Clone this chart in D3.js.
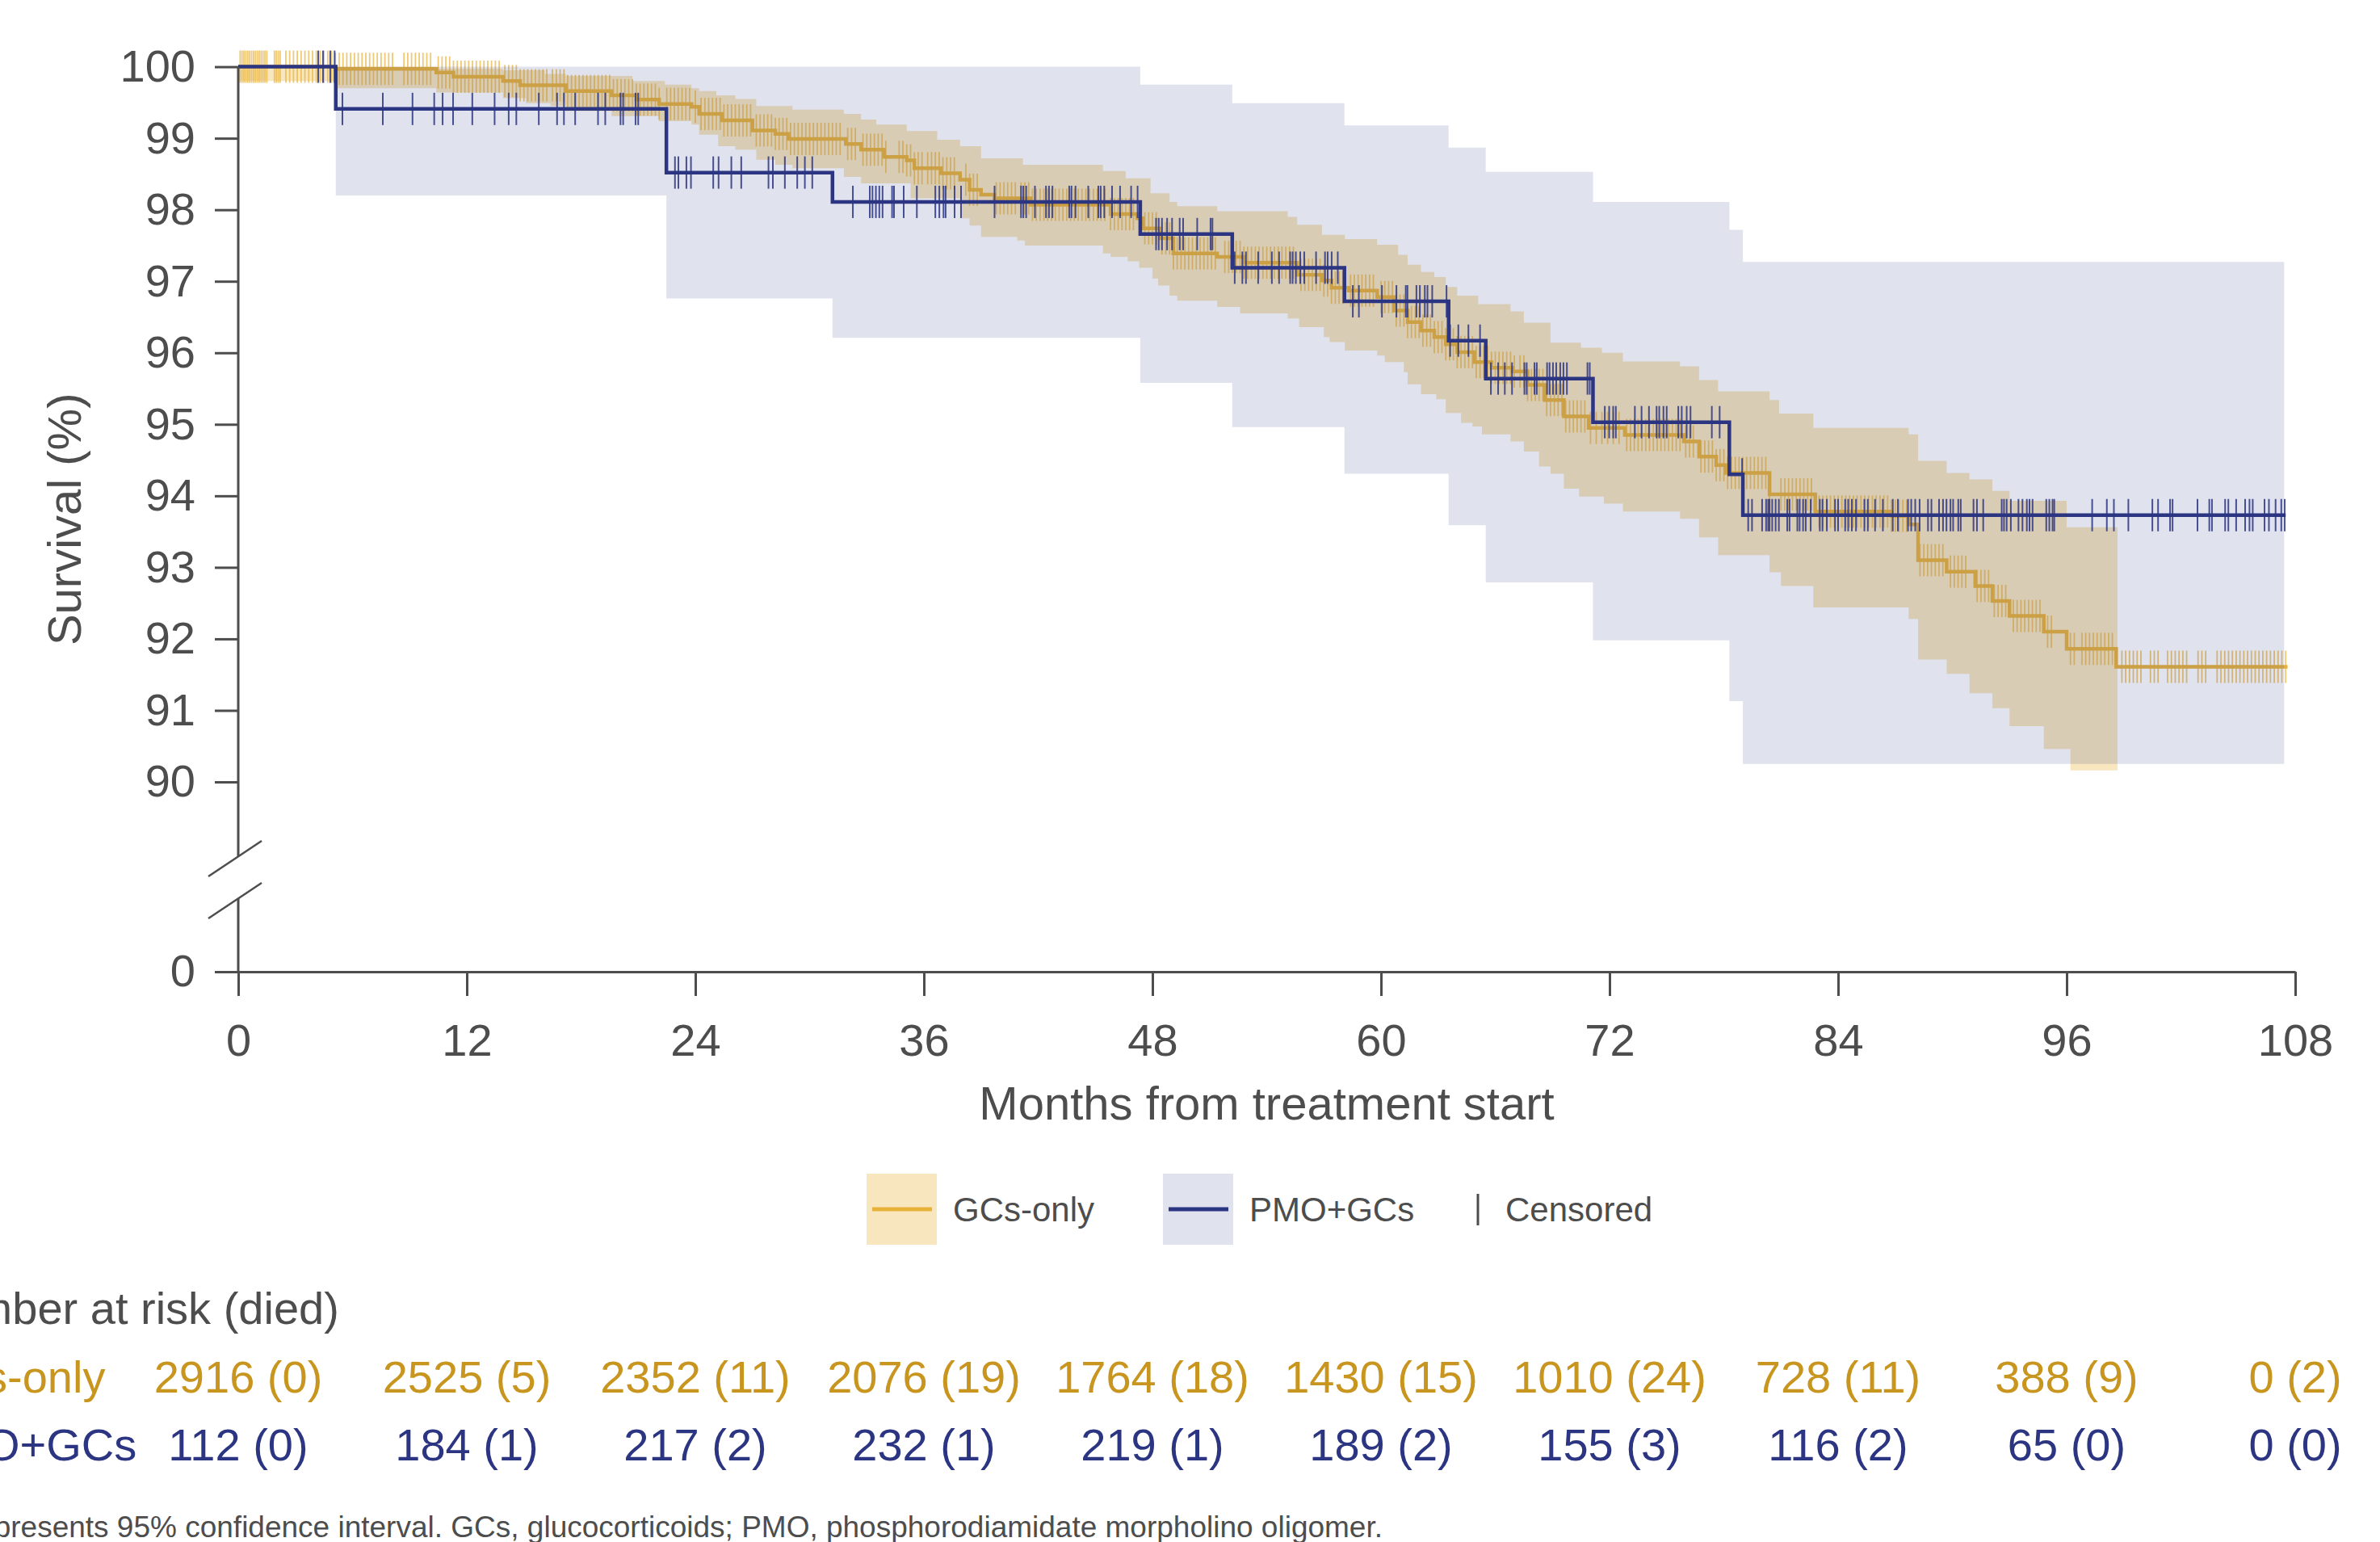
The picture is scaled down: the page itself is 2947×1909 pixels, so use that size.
<!DOCTYPE html>
<meta charset="utf-8">
<html>
<head>
<title>Survival</title>
<style>
  body { margin: 0; background: #fff; }
  text { font-family: "Liberation Sans", Arial, sans-serif; fill: #4d4d4d; }
</style>
<script src="https://cdn.jsdelivr.net/npm/d3@7"></script>
</head>
<body>
<script>
// ticks and table
var monthTicks = [0, 12, 24, 36, 48, 60, 72, 84, 96, 108]
var survTicks = [90, 91, 92, 93, 94, 95, 96, 97, 98, 99, 100]
var gcsRisk = [2916, 2525, 2352, 2076, 1764, 1430, 1010, 728, 388, 0]
var gcsDied = [0, 5, 11, 19, 18, 15, 24, 11, 9, 2]
var pmoRisk = [112, 184, 217, 232, 219, 189, 155, 116, 65, 0]
var pmoDied = [0, 1, 2, 1, 1, 2, 3, 2, 0, 0]

// GCs-only: [month, survival %] steps
var gcsSurv = [[0,100],[5.1,99.97],[10.4,99.92],[11.3,99.86],[13.9,99.8],[14.8,99.74],[17.2,99.66],[19.6,99.6],[20.9,99.54],[22.1,99.48],[23.8,99.44],[24.2,99.34],[25.4,99.25],[27,99.11],[28.2,99.06],[28.9,98.99],[31.9,98.92],[32.7,98.84],[33.9,98.74],[35.1,98.69],[35.5,98.58],[36.9,98.51],[37.9,98.42],[38.4,98.28],[39,98.21],[39.7,98.16],[41.6,98.07],[45.8,97.94],[47.2,97.88],[47.5,97.74],[48.4,97.6],[49.1,97.39],[51.4,97.34],[52.8,97.26],[55.6,97.09],[56.9,97.01],[57.4,96.91],[58.3,96.87],[59.8,96.78],[60.7,96.59],[61.4,96.43],[62.1,96.31],[62.8,96.22],[63.4,96.12],[64,96.01],[64.9,95.87],[65.8,95.79],[66.9,95.74],[67.7,95.55],[68.6,95.34],[69.6,95.11],[70.9,94.95],[72.8,94.85],[75.9,94.76],[76.7,94.55],[77.6,94.43],[78.1,94.32],[80.4,94.02],[82.8,93.78],[86.8,93.72],[87.7,93.6],[88.2,93.1],[89.7,92.94],[91.2,92.74],[92.1,92.53],[93,92.32],[94.8,92.1],[96,91.86],[98.6,91.61]]
var gcsEnd = 107.6
var gcsUpper = [[0,100],[10.4,99.97],[13.9,99.95],[16.1,99.9],[17.2,99.87],[20.7,99.8],[22.4,99.75],[23.8,99.7],[24.2,99.66],[25.1,99.6],[26.1,99.55],[27.2,99.45],[29.1,99.4],[31.8,99.34],[32.7,99.26],[33.5,99.19],[35.1,99.1],[36.7,98.98],[37.9,98.89],[39,98.72],[41.2,98.63],[45.4,98.54],[46.6,98.44],[47.9,98.23],[48.9,98.11],[49.3,98.05],[51.4,97.98],[55.1,97.9],[55.6,97.79],[56.9,97.65],[58.1,97.59],[59.8,97.51],[60.9,97.37],[61.4,97.23],[62.1,97.13],[62.8,97.06],[63.4,96.92],[64,96.8],[65.1,96.68],[66.8,96.58],[67.5,96.42],[68.9,96.14],[70.5,96.07],[71.6,96],[72.7,95.88],[75.7,95.81],[76.7,95.62],[77.7,95.46],[80.4,95.34],[80.9,95.15],[82.7,94.95],[87.7,94.86],[88.2,94.49],[89.7,94.32],[90.9,94.23],[92.1,94.07],[93,93.93],[96,93.56]]
var gcsLower = [[0,99.8],[5.1,99.7],[10.4,99.64],[13.9,99.56],[15.1,99.49],[16.4,99.45],[17.2,99.38],[19.6,99.31],[22.1,99.24],[23.8,99.19],[24.2,99.05],[25.2,98.89],[26.1,98.84],[27.2,98.7],[28.2,98.63],[29.1,98.58],[31.8,98.46],[32.7,98.37],[35.3,98.16],[37.9,97.88],[38.4,97.78],[39,97.62],[40.9,97.57],[41.3,97.5],[45.4,97.39],[45.8,97.34],[46.7,97.28],[47.3,97.19],[48,97.04],[48.3,96.94],[48.9,96.8],[49.3,96.73],[51.4,96.64],[52.6,96.55],[55.1,96.48],[55.7,96.36],[57,96.22],[57.3,96.15],[58.1,96.03],[59.8,95.96],[60.2,95.87],[61.2,95.73],[61.4,95.56],[62.1,95.42],[62.9,95.35],[63.4,95.16],[64.2,95.02],[64.8,94.97],[65.3,94.86],[66.8,94.76],[67.5,94.62],[68.3,94.41],[68.9,94.31],[69.6,94.1],[70.4,93.99],[71.7,93.89],[72.7,93.78],[75.7,93.68],[76.7,93.42],[77.7,93.17],[80.4,92.93],[81,92.74],[82.7,92.44],[87.7,92.28],[88.2,91.71],[89.7,91.51],[90.9,91.24],[92.1,91.03],[93,90.78],[94.8,90.46],[96.2,90.16]]
var gcsCiEnd = 98.67
var gcsCensor = [0.1,0.2,0.3,0.4,0.5,0.6,0.7,0.8,0.9,1.0,1.1,1.2,1.3,1.4,1.5,1.9,2.0,2.1,2.2,2.5,2.7,2.9,3.1,3.3,3.5,
  3.7,3.9,4.1,4.3,4.5,4.7,4.9,5.1,5.3,5.5,5.7,5.9,6.1,6.3,6.5,6.7,6.9,7.1,7.3,7.5,7.7,7.9,8.1,
  8.7,8.9,9.1,9.3,9.5,9.7,9.9,10.1,10.5,10.7,10.9,11.1,11.3,11.5,11.7,11.9,12.1,12.3,12.5,12.7,12.9,13.1,13.3,13.5,13.7,
  14.0,14.2,14.4,14.6,14.8,15.0,15.2,15.4,15.6,15.8,16.0,16.2,16.5,16.7,16.9,17.1,17.3,17.5,17.7,17.9,18.1,18.3,18.5,18.7,18.9,
  19.1,19.3,19.5,19.7,19.9,20.1,20.3,20.5,20.7,20.9,21.1,21.3,21.5,21.7,21.9,22.1,22.5,22.7,22.9,23.1,23.3,23.5,23.7,
  24.0,24.3,24.5,24.7,24.9,25.1,25.3,25.5,25.7,25.9,26.1,26.3,26.5,26.7,26.9,
  27.2,27.4,27.6,27.8,28.0,28.2,28.4,28.6,28.8,29.0,29.2,29.4,29.6,29.8,30.0,30.2,30.4,30.6,30.8,31.0,31.2,31.4,31.6,
  32.0,32.2,32.4,32.8,33.0,33.2,33.4,33.6,33.8,34.0,34.7,34.9,35.1,35.3,35.5,35.7,35.9,
  36.2,36.4,36.6,36.8,37.0,37.2,37.4,37.6,38.2,38.4,38.6,38.8,39.8,40.0,40.2,40.4,40.6,40.8,
  41.1,41.3,41.5,41.7,41.9,42.1,42.3,42.5,42.7,42.9,43.1,43.3,43.5,43.7,43.9,44.1,44.3,44.5,44.7,44.9,45.1,45.3,45.5,
  45.8,46.0,46.2,46.4,46.6,46.8,47.0,47.6,47.8,48.0,48.2,
  48.5,48.7,48.9,49.1,49.3,49.5,49.7,49.9,50.1,50.3,50.5,50.7,50.9,51.1,51.3,
  51.8,52.0,52.2,52.4,52.6,52.8,53.0,53.2,53.4,53.6,53.8,54.0,54.2,54.4,54.6,54.8,55.0,55.2,55.4,
  55.8,56.0,56.2,56.4,56.6,56.8,57.0,57.2,57.4,57.6,57.8,58.0,58.4,58.6,58.8,59.0,59.2,59.4,59.6,
  60.0,60.2,60.4,60.6,60.8,61.0,61.2,61.4,61.6,61.8,62.0,62.2,62.4,62.6,62.8,63.0,63.2,63.4,63.6,63.8,
  64.0,64.2,64.4,64.6,64.8,65.0,65.2,65.4,65.6,65.8,66.0,66.2,66.4,66.6,66.8,67.0,
  67.3,67.5,67.7,67.9,68.1,68.3,68.5,68.7,68.9,69.1,69.3,69.5,69.7,69.9,70.1,70.3,70.5,70.7,
  71.0,71.3,71.6,71.9,72.2,72.5,72.9,73.1,73.3,73.5,73.7,73.9,74.1,74.3,74.5,74.7,74.9,75.1,75.3,75.5,75.7,
  76.0,76.2,76.4,76.8,77.0,77.2,77.4,77.6,77.8,78.0,78.2,78.4,78.6,78.8,79.0,79.2,79.4,79.6,79.8,80.0,80.2,80.4,
  81.0,81.2,81.4,81.6,81.8,82.0,82.2,82.4,82.6,
  83.0,83.2,83.4,83.6,83.8,84.0,84.2,84.4,84.6,84.8,85.0,85.2,85.4,85.6,85.8,86.0,86.2,86.4,86.6,86.8,87.0,87.2,87.4,87.6,
  88.3,88.5,88.7,88.9,89.1,89.3,89.5,89.9,90.1,90.3,90.5,90.7,91.3,91.5,91.7,91.9,92.2,92.4,92.6,92.8,
  93.2,93.4,93.6,93.8,94.0,94.2,94.4,94.6,95.0,95.2,96.2,96.4,96.8,97.0,97.2,97.4,97.6,97.8,98.0,98.2,98.4,
  98.9,99.1,99.3,99.5,99.7,99.9,100.4,100.6,100.8,101.3,101.5,101.7,101.9,102.1,102.3,102.9,103.1,103.3,
  103.9,104.1,104.3,104.5,104.7,104.9,105.1,105.3,105.5,105.7,105.9,106.1,106.3,106.5,106.7,106.9,107.1,107.3,107.5]

// PMO+GCs
var pmoSurv = [[0,100],[5.12,99.41],[22.48,98.52],[31.2,98.11],[47.36,97.66],[52.19,97.19],[58.08,96.72],[63.55,96.17],[65.5,95.64],[71.13,95.03],[78.29,94.3],[79,93.73]]
var pmoEnd = 107.5
var pmoUpper = [[5.12,100],[47.36,99.75],[52.19,99.49],[58.08,99.18],[63.55,98.87],[65.5,98.53],[71.13,98.11],[78.29,97.72],[79,97.27]]
var pmoLower = [[5.12,98.2],[22.48,96.76],[31.2,96.21],[47.36,95.58],[52.19,94.96],[58.08,94.31],[63.55,93.59],[65.5,92.79],[71.13,91.98],[78.29,91.13],[79,90.25]]
var pmoCiEnd = 107.42
var pmoCensor = [4.2,4.45,4.83,5.06,5.47,7.59,9.15,10.29,10.73,11.28,12.29,13.46,14.2,14.6,15.78,16.74,17.1,17.69,18.89,19.27,20.07,20.21,20.86,21.0,
  22.93,23.11,23.53,23.77,24.94,25.22,25.89,26.41,27.84,28.07,28.7,29.35,29.75,30.14,
  32.27,33.16,33.3,33.48,33.66,33.83,34.33,34.43,34.94,35.63,36.6,36.81,37.03,37.14,37.61,37.95,39.71,41.1,41.22,41.37,41.83,42.41,42.57,42.75,43.63,43.75,43.96,44.63,45.16,45.28,45.47,45.88,46.3,46.88,47.22,
  48.19,48.33,48.5,48.77,49.03,49.43,49.61,50.35,51.05,51.15,
  52.32,52.72,52.91,53.55,54.27,54.65,55.23,55.36,55.53,55.76,55.97,56.59,57.06,57.2,57.41,57.73,
  58.52,58.84,60.05,60.81,61.3,61.39,61.86,62.04,62.3,62.44,62.69,63.44,63.63,64.06,64.59,65.2,
  65.77,66.15,66.5,66.88,67.53,67.65,68.06,68.18,68.72,68.85,69.03,69.2,69.41,69.58,69.76,70.84,70.96,
  71.75,71.98,72.19,72.33,73.33,73.68,74.07,74.47,74.61,74.83,75.0,75.61,75.79,76.05,76.25,77.37,77.78,78.96,
  79.28,79.48,80.01,80.22,80.33,80.4,80.54,80.72,80.89,81.33,81.45,81.86,81.98,82.16,82.3,82.56,83.04,83.18,83.41,83.84,84.0,84.37,84.53,84.72,84.94,
  85.38,85.56,85.94,86.35,86.87,87.14,87.67,87.84,88.05,88.28,88.72,88.9,89.3,89.51,89.69,89.9,90.04,90.31,90.44,91.11,91.29,91.62,
  92.59,92.71,92.85,93.07,93.47,93.68,93.91,94.05,94.21,94.93,95.09,95.26,95.35,97.34,98.11,98.48,99.24,100.5,100.8,101.43,101.56,
  102.87,103.49,103.63,104.32,104.49,104.9,105.37,105.6,105.77,106.39,106.62,106.97,107.27,107.45]

var gold = "#E8B23A", goldText = "#C8951F", navy = "#2B3582"

var svgWidth = 2947, svgHeight = 1909
var svg = d3.select("body").append("svg")
    .attr("width", svgWidth).attr("height", svgHeight)

var x = d3.scaleLinear().domain([0, 108]).range([295, 2842])
var y = d3.scaleLinear().domain([90, 100]).range([968, 82.6])
var zeroY = 1203

function valAt(steps, t){
    var v = steps[0][1]
    steps.forEach(function(s){ if (s[0] <= t) v = s[1] })
    return v
}
function bandPoints(upper, lower, end){
    var times = Array.from(new Set(upper.map(d => d[0]).concat(lower.map(d => d[0])))).sort((a,b) => a-b)
    var pts = times.map(t => ({t: t, hi: valAt(upper, t), lo: valAt(lower, t)}))
    var last = pts[pts.length-1]
    pts.push({t: end, hi: last.hi, lo: last.lo})
    return pts
}
var area = d3.area().curve(d3.curveStepAfter)
    .x(d => x(d.t)).y0(d => y(d.lo)).y1(d => y(d.hi))
var line = d3.line().curve(d3.curveStepAfter)
    .x(d => x(d[0])).y(d => y(d[1]))

function drawSeries(surv, end, upper, lower, ciEnd, censor, col, fillOp, tickW, tickOp){
    var g = svg.append("g")
    g.append("path").datum(bandPoints(upper, lower, ciEnd))
        .attr("d", area).attr("fill", col).attr("fill-opacity", fillOp)
    g.append("path").datum(surv.concat([[end, surv[surv.length-1][1]]]))
        .attr("d", line).attr("fill", "none").attr("stroke", col).attr("stroke-width", 4.5)
    g.selectAll(".cens").data(censor).enter().append("line")
        .attr("x1", d => x(d)).attr("x2", d => x(d))
        .attr("y1", d => y(valAt(surv, d)) - 20).attr("y2", d => y(valAt(surv, d)) + 20)
        .attr("stroke", col).attr("stroke-width", tickW).attr("stroke-opacity", tickOp)
}
drawSeries(gcsSurv, gcsEnd, gcsUpper, gcsLower, gcsCiEnd, gcsCensor, gold, 0.33, 1.8, 0.7)
drawSeries(pmoSurv, pmoEnd, pmoUpper, pmoLower, pmoCiEnd, pmoCensor, navy, 0.145, 2, 0.85)

// axes
var axisCol = "#4d4d4d"
var yAxis = svg.append("g").attr("transform", "translate(" + x(0) + ",0)")
    .call(d3.axisLeft(y).tickValues(survTicks).tickSize(29).tickPadding(24))
var zeroScale = d3.scaleLinear().domain([0, 1]).range([zeroY, zeroY - 100])
svg.append("g").attr("transform", "translate(" + x(0) + ",0)")
    .call(d3.axisLeft(zeroScale).tickValues([0]).tickFormat(d3.format("d")).tickSize(29).tickPadding(24))
    .select(".domain").remove()
yAxis.select(".domain").remove()
var xAxis = svg.append("g").attr("transform", "translate(0," + zeroY + ")")
    .call(d3.axisBottom(x).tickValues(monthTicks).tickSize(30).tickPadding(34).tickSizeOuter(0))
svg.selectAll(".tick text").attr("font-size", 56).attr("font-family", null).attr("fill", axisCol)
svg.selectAll(".tick line, .domain").attr("stroke", axisCol).attr("stroke-width", 3)

// y axis line with break
var breakTop = 1060, breakBot = 1112
svg.append("line").attr("x1", x(0)).attr("x2", x(0)).attr("y1", y(100)).attr("y2", breakTop)
    .attr("stroke", axisCol).attr("stroke-width", 3)
svg.append("line").attr("x1", x(0)).attr("x2", x(0)).attr("y1", breakBot).attr("y2", zeroY)
    .attr("stroke", axisCol).attr("stroke-width", 3)
;[breakTop, breakBot].forEach(function(b){
    svg.append("line").attr("x1", x(0) - 37).attr("y1", b + 25)
        .attr("x2", x(0) + 29).attr("y2", b - 19)
        .attr("stroke", axisCol).attr("stroke-width", 2.5)
})

svg.append("text").attr("transform", "translate(100," + (y(100) + zeroY) / 2 + ") rotate(-90)")
    .attr("text-anchor", "middle").attr("font-size", 58).text("Survival (%)")
svg.append("text").attr("x", (x(0) + x(108)) / 2).attr("y", 1386)
    .attr("text-anchor", "middle").attr("font-size", 58).text("Months from treatment start")

// legend
var lg = svg.append("g")
var legendItems = [{name: "GCs-only", col: gold, op: 0.33, x: 1073}, {name: "PMO+GCs", col: navy, op: 0.145, x: 1440}]
legendItems.forEach(function(d){
    lg.append("rect").attr("x", d.x).attr("y", 1453).attr("width", 87).attr("height", 88)
        .attr("fill", d.col).attr("fill-opacity", d.op)
    lg.append("line").attr("x1", d.x + 7).attr("x2", d.x + 81).attr("y1", 1497).attr("y2", 1497)
        .attr("stroke", d.col).attr("stroke-width", 5)
    lg.append("text").attr("x", d.x + 107).attr("y", 1497).attr("dy", "0.35em")
        .attr("font-size", 42).text(d.name)
})
lg.append("line").attr("x1", 1830).attr("x2", 1830).attr("y1", 1478).attr("y2", 1517)
    .attr("stroke", axisCol).attr("stroke-width", 3)
lg.append("text").attr("x", 1864).attr("y", 1497).attr("dy", "0.35em").attr("font-size", 42).text("Censored")

// number at risk table
var tbl = svg.append("g")
tbl.append("text").attr("x", -103).attr("y", 1639).attr("font-size", 56).text("Number at risk (died)")
var rows = [{label: "GCs-only", risk: gcsRisk, died: gcsDied, col: goldText, y: 1724},
            {label: "PMO+GCs", risk: pmoRisk, died: pmoDied, col: navy, y: 1808}]
rows.forEach(function(r){
    tbl.append("text").attr("x", -103).attr("y", r.y).attr("font-size", 56)
        .style("fill", r.col).text(r.label)
    tbl.selectAll(null).data(monthTicks).enter().append("text")
        .attr("x", d => x(d)).attr("y", r.y).attr("text-anchor", "middle").attr("font-size", 56)
        .style("fill", r.col)
        .text((d, i) => r.risk[i] + " (" + r.died[i] + ")")
})

svg.append("text").attr("x", 1712).attr("y", 1903).attr("text-anchor", "end").attr("font-size", 37)
    .text("Shaded area represents 95% confidence interval. GCs, glucocorticoids; PMO, phosphorodiamidate morpholino oligomer.")
</script>
</body>
</html>
